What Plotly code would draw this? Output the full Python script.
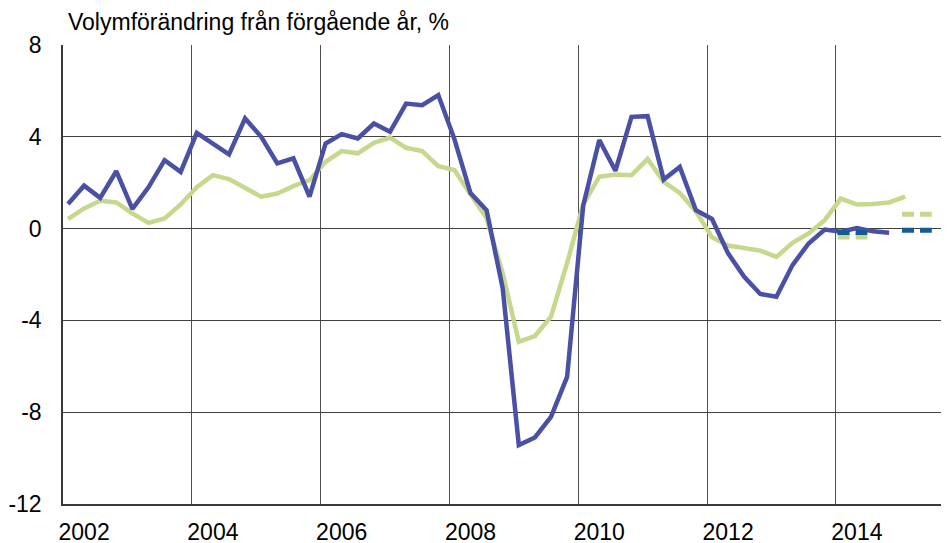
import plotly.graph_objects as go

# Quarterly data, 2002 Q1 onwards (volume change from previous year, %)
years = ["2002", "2004", "2006", "2008", "2010", "2012", "2014"]
y_ticks = [-12, -8, -4, 0, 4, 8]
y_tick_labels = ["-12", "-8", "-4", "0", "4", "8"]

series_blue = [1.07, 1.87, 1.34, 2.5, 0.86, 1.8, 2.98, 2.47,
               4.17, 3.7, 3.23, 4.8, 4.0, 2.84, 3.06, 1.39,
               3.71, 4.12, 3.93, 4.58, 4.22, 5.45, 5.38, 5.82,
               3.9, 1.55, 0.8, -2.6, -9.43, -9.1, -8.2, -6.46,
               1.0, 3.86, 2.52, 4.87, 4.9, 2.14, 2.69, 0.8,
               0.42, -1.08, -2.1, -2.85, -2.97, -1.59, -0.65, -0.04,
               -0.14, 0.02, -0.12, -0.18]

series_green = [0.41, 0.88, 1.21, 1.14, 0.66, 0.25, 0.44, 1.05,
                1.8, 2.33, 2.16, 1.8, 1.39, 1.53, 1.85, 2.11,
                2.91, 3.38, 3.28, 3.74, 3.97, 3.52, 3.38, 2.72,
                2.55, 1.5, 0.45, -1.95, -4.93, -4.68, -3.84, -1.5,
                1.05, 2.26, 2.36, 2.33, 3.03, 2.04, 1.55, 0.75,
                -0.38, -0.74, -0.84, -0.96, -1.23, -0.62, -0.21, 0.37,
                1.31, 1.05, 1.07, 1.14, 1.39]

# Forecast (annual) levels, 2014 and 2015
forecast_years_q = [48, 52]          # quarter index where each forecast year starts
forecast_blue = [-0.17, -0.07]
forecast_green = [-0.37, 0.63]

BLUE = "#4A50A4"
GREEN = "#C6D88C"
DBLUE = "#155B95"
FONT = "Liberation Sans, Arial, sans-serif"

fig = go.Figure()

fig.add_trace(go.Scatter(x=list(range(len(series_green))), y=series_green,
                         mode="lines", line=dict(color=GREEN, width=4.5),
                         showlegend=False, hoverinfo="skip"))
fig.add_trace(go.Scatter(x=list(range(len(series_blue))), y=series_blue,
                         mode="lines", line=dict(color=BLUE, width=4.5),
                         showlegend=False, hoverinfo="skip"))

for q0, vb, vg in zip(forecast_years_q, forecast_blue, forecast_green):
    xs = [q0 - 0.2, q0 + 1.65]
    fig.add_trace(go.Scatter(x=xs, y=[vg, vg], mode="lines",
                             line=dict(color=GREEN, width=5, dash="12px,6px"),
                             showlegend=False, hoverinfo="skip"))
    fig.add_trace(go.Scatter(x=xs, y=[vb, vb], mode="lines",
                             line=dict(color=DBLUE, width=5, dash="12px,6px"),
                             showlegend=False, hoverinfo="skip"))

label_pos = [1 + 8 * k for k in range(len(years))]

# page body has an 8px default margin, so the figure is sized to fit
fig.update_layout(
    width=941, height=535,
    margin=dict(l=55, r=0, t=37, b=39, autoexpand=False),
    paper_bgcolor="white", plot_bgcolor="white",
    font=dict(family=FONT, size=23, color="#000000"),
    xaxis=dict(range=[-0.31, 54.72], tickvals=label_pos, ticktext=years,
               showgrid=False, zeroline=False, showline=True,
               linecolor="#3a3a3a", linewidth=1.5, ticks="",
               ticklabelstandoff=7, automargin=False,
               minor=dict(tick0=-0.31, dtick=8, showgrid=True,
                          gridcolor="#505050", gridwidth=1, ticks="")),
    yaxis=dict(range=[-12, 8], tickvals=y_ticks, ticktext=y_tick_labels,
               showgrid=True, gridcolor="#404040", gridwidth=1,
               zeroline=False, showline=True, linecolor="#3a3a3a",
               linewidth=1.5, ticks="", ticklabelstandoff=15,
               automargin=False),
    annotations=[dict(text="Volymförändring från förgående år, %",
                      xref="paper", yref="paper", x=0, y=1,
                      xanchor="left", yanchor="bottom", xshift=3, yshift=8,
                      showarrow=False, font=dict(family=FONT, size=23))],
)

fig.write_html("out.html")
